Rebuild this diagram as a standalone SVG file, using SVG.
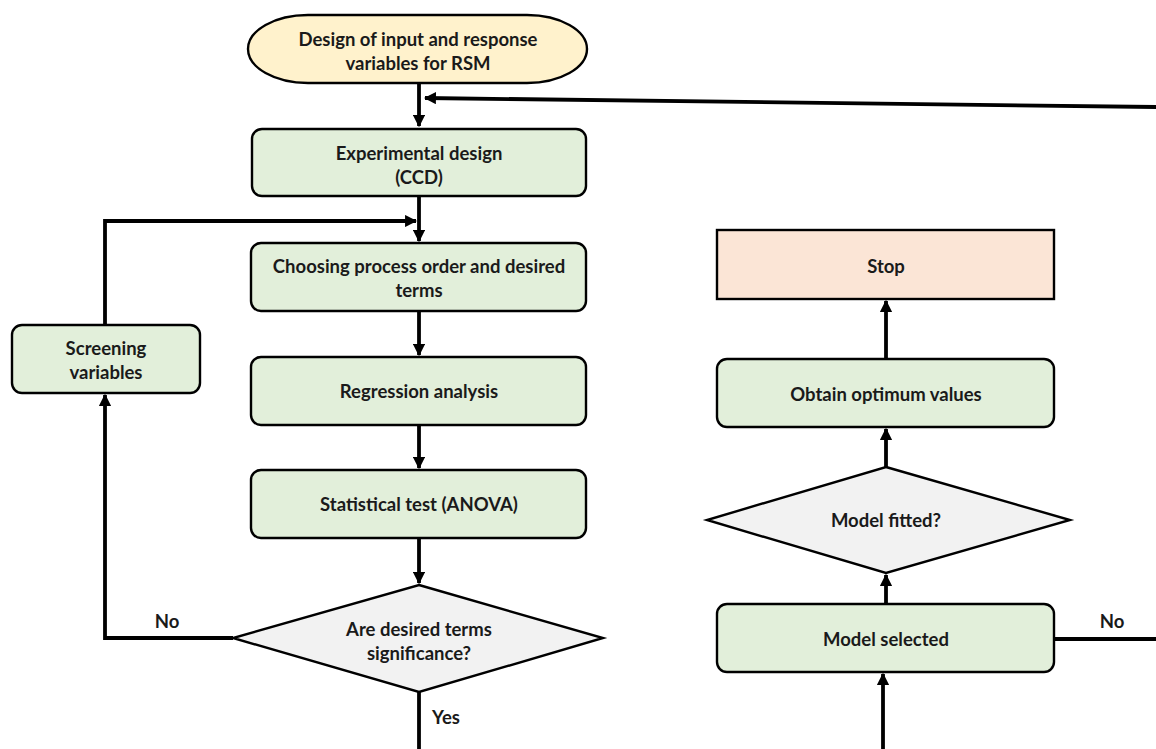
<svg xmlns="http://www.w3.org/2000/svg" width="1156" height="749" viewBox="0 0 1156 749">
<defs>
<marker id="ah" viewBox="0 0 10 10" refX="9" refY="5" markerWidth="3.2" markerHeight="3.2" orient="auto" markerUnits="strokeWidth">
<path d="M0,0 L10,5 L0,10 z" fill="#000"/>
</marker>
<style>
.box{fill:#E2EFDA;stroke:#000;stroke-width:2.4}
.dia{fill:#F2F2F2;stroke:#000;stroke-width:2.4}
.t{font-family:Lato,"Open Sans",sans-serif;font-weight:bold;font-size:18.5px;fill:#1a1a1a;text-anchor:middle}
.c{fill:none;stroke:#000;stroke-width:3.8}
</style>
</defs>
<rect width="1156" height="749" fill="#fff"/>
<g id="connectors">
<path class="c" d="M419,83 L419,126" marker-end="url(#ah)"/>
<path class="c" d="M1156,107 L425,98" marker-end="url(#ah)"/>
<path class="c" d="M419,196 L419,241" marker-end="url(#ah)"/>
<path class="c" d="M105,325 L105,221 L416,221" marker-end="url(#ah)"/>
<path class="c" d="M419,311 L419,355" marker-end="url(#ah)"/>
<path class="c" d="M419,425 L419,468" marker-end="url(#ah)"/>
<path class="c" d="M419,538 L419,583" marker-end="url(#ah)"/>
<path class="c" d="M233,638 L105,638 L105,395" marker-end="url(#ah)"/>
<path class="c" d="M419,692 L419,749"/>
<path class="c" d="M886,359 L886,301" marker-end="url(#ah)"/>
<path class="c" d="M886,467 L886,429" marker-end="url(#ah)"/>
<path class="c" d="M886,604 L886,575" marker-end="url(#ah)"/>
<path class="c" d="M883,749 L883,674" marker-end="url(#ah)"/>
<path class="c" d="M1054,639 L1156,639"/>
<text class="t" x="167" y="628">No</text>
<text class="t" x="446" y="724">Yes</text>
<text class="t" x="1112" y="628">No</text>
</g>
<g id="start">
<rect x="248" y="15" width="339" height="68" rx="60" ry="34" fill="#FFF2CC" stroke="#000" stroke-width="2.4"/>
<text class="t" x="418" y="46">Design of input and response</text>
<text class="t" x="418" y="70">variables for RSM</text>
</g>
<g id="experimental">
<rect class="box" x="252" y="129" width="334" height="67" rx="10"/>
<text class="t" x="419" y="160">Experimental design</text>
<text class="t" x="419" y="184">(CCD)</text>
</g>
<g id="choosing">
<rect class="box" x="251" y="243" width="335" height="68" rx="10"/>
<text class="t" x="419" y="273">Choosing process order and desired</text>
<text class="t" x="419" y="297">terms</text>
</g>
<g id="regression">
<rect class="box" x="251" y="357" width="335" height="68" rx="10"/>
<text class="t" x="419" y="398">Regression analysis</text>
</g>
<g id="statistical">
<rect class="box" x="251" y="470" width="335" height="68" rx="10"/>
<text class="t" x="419" y="511">Statistical test (ANOVA)</text>
</g>
<g id="screening">
<rect class="box" x="12" y="325" width="188" height="68" rx="10"/>
<text class="t" x="106" y="355">Screening</text>
<text class="t" x="106" y="379">variables</text>
</g>
<g id="decision1">
<polygon class="dia" points="419,585 603,638 419,692 233,638"/>
<text class="t" x="419" y="636">Are desired terms</text>
<text class="t" x="419" y="660">significance?</text>
</g>
<g id="stop">
<rect x="717" y="230" width="337" height="69" fill="#FBE5D6" stroke="#000" stroke-width="2.4"/>
<text class="t" x="886" y="273">Stop</text>
</g>
<g id="obtain">
<rect class="box" x="717" y="359" width="337" height="68" rx="10"/>
<text class="t" x="886" y="401">Obtain optimum values</text>
</g>
<g id="decision2">
<polygon class="dia" points="886,467 1070,520 886,573 707,520"/>
<text class="t" x="886" y="527">Model fitted?</text>
</g>
<g id="selected">
<rect class="box" x="717" y="604" width="337" height="68" rx="10"/>
<text class="t" x="886" y="646">Model selected</text>
</g>
</svg>
